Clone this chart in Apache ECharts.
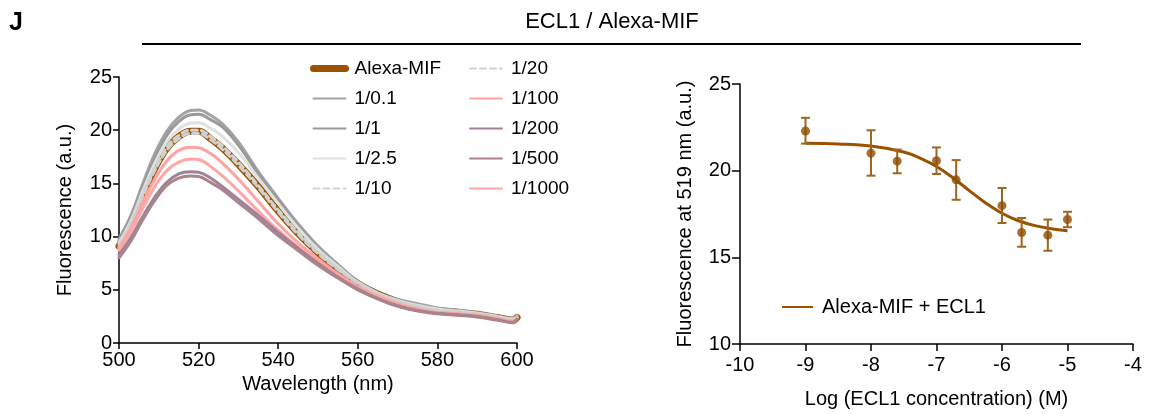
<!DOCTYPE html>
<html>
<head>
<meta charset="utf-8">
<script src="https://cdn.jsdelivr.net/npm/echarts@6/dist/echarts.min.js"></script>
<style>
  html, body { margin: 0; padding: 0; background: #fff; }
  #chart { width: 1153px; height: 414px; }
</style>
</head>
<body>
<div id="chart"></div>
<script>
// spectra (left panel)
const wavelength = [500, 503, 506, 509, 512, 515, 518, 520, 523, 526, 530, 535, 540, 545, 550, 555, 560, 565, 570, 575, 580, 585, 590, 595, 599, 600];
const alexaMIF = [9.1, 11.2, 13.9, 16.4, 18.3, 19.4, 19.9, 19.9, 19.2, 18.3, 16.8, 14.7, 12.4, 10.3, 8.5, 6.9, 5.6, 4.6, 3.9, 3.4, 3.05, 2.9, 2.7, 2.4, 2.15, 2.4];
const r0_1 = [9.8, 12.0, 15.0, 17.8, 19.9, 21.2, 21.85, 21.9, 21.4, 20.6, 18.9, 16.1, 13.6, 11.2, 9.1, 7.4, 5.8, 4.7, 4.1, 3.7, 3.3, 3.1, 2.85, 2.55, 2.3, 2.6];
const r1 = [9.6, 11.8, 14.7, 17.4, 19.5, 20.8, 21.45, 21.5, 21.0, 20.3, 18.6, 15.9, 13.4, 11.0, 8.95, 7.3, 5.8, 4.7, 4.05, 3.6, 3.25, 3.05, 2.8, 2.5, 2.25, 2.5];
const r2_5 = [9.4, 11.5, 14.3, 16.9, 18.9, 20.1, 20.65, 20.7, 20.2, 19.4, 17.9, 15.5, 13.1, 10.8, 8.8, 7.2, 5.7, 4.7, 4.0, 3.55, 3.2, 3.0, 2.8, 2.5, 2.25, 2.45];
const r10 = [9.2, 11.3, 14.0, 16.5, 18.4, 19.5, 20.0, 20.0, 19.4, 18.5, 17.0, 14.8, 12.5, 10.4, 8.6, 7.0, 5.7, 4.7, 3.95, 3.45, 3.1, 2.95, 2.75, 2.45, 2.2, 2.4];
const r20 = [9.0, 11.1, 13.8, 16.2, 18.1, 19.2, 19.7, 19.7, 19.1, 18.2, 16.7, 14.6, 12.3, 10.2, 8.4, 6.9, 5.6, 4.6, 3.9, 3.4, 3.05, 2.9, 2.7, 2.4, 2.15, 2.35];
const r100 = [8.9, 10.8, 13.2, 15.4, 17.1, 18.1, 18.4, 18.35, 17.8, 16.9, 15.4, 13.3, 11.2, 9.4, 7.9, 6.5, 5.3, 4.4, 3.7, 3.2, 2.9, 2.75, 2.6, 2.3, 2.05, 2.4];
const r200 = [8.3, 9.9, 11.9, 13.7, 15.1, 15.9, 16.1, 16.05, 15.5, 14.7, 13.5, 12.0, 10.4, 8.9, 7.5, 6.2, 5.1, 4.2, 3.5, 3.05, 2.8, 2.65, 2.5, 2.2, 1.95, 2.2];
const r500 = [8.0, 9.6, 11.6, 13.4, 14.8, 15.5, 15.7, 15.65, 15.1, 14.4, 13.2, 11.7, 10.1, 8.7, 7.3, 6.1, 5.0, 4.15, 3.45, 3.0, 2.75, 2.6, 2.45, 2.15, 1.9, 2.2];
const r1000 = [8.7, 10.5, 12.7, 14.7, 16.2, 17.0, 17.3, 17.25, 16.6, 15.7, 14.3, 12.4, 10.6, 9.0, 7.6, 6.3, 5.2, 4.3, 3.6, 3.15, 2.85, 2.7, 2.55, 2.25, 2.0, 2.35];

// titration (right panel)
const logConc = [-9, -8, -7.6, -7, -6.7, -6, -5.7, -5.3, -5];
const fl519 = [22.29, 21.01, 20.55, 20.57, 19.47, 17.98, 16.43, 16.28, 17.18];
const errLow = [21.56, 19.71, 19.85, 19.81, 18.32, 16.98, 15.61, 15.38, 16.74];
const errHigh = [23.05, 22.33, 21.22, 21.34, 20.61, 19.0, 17.27, 17.18, 17.63];
const fitX = [-9, -8.5, -8, -7.5, -7.25, -7, -6.75, -6.5, -6.25, -6, -5.75, -5.5, -5.25, -5];
const fitY = [21.58, 21.54, 21.42, 21.08, 20.73, 20.24, 19.59, 18.85, 18.14, 17.54, 17.11, 16.83, 16.65, 16.54];

const font = "'Liberation Sans', Arial, sans-serif";
const brown = "#9a5200";

const pair = (xs, ys) => xs.map((x, i) => [x, ys[i]]);

const spectrum = (name, ys, color, width, dashed) => ({
  name: name,
  type: "line",
  xAxisIndex: 0,
  yAxisIndex: 0,
  data: pair(wavelength, ys),
  smooth: 0.4,
  symbol: "none",
  lineStyle: { color: color, width: width, type: dashed ? [6, 4] : "solid", cap: "round" },
  itemStyle: { color: color },
});

const axisCommon = {
  axisLine: { lineStyle: { color: "#000", width: 1.5 } },
  axisTick: { lineStyle: { color: "#000", width: 1.5 }, length: 6 },
  axisLabel: { color: "#000", fontSize: 20, fontFamily: font },
  splitLine: { show: false },
  nameTextStyle: { color: "#000", fontSize: 20, fontFamily: font },
};

// 图例只画线，不画中间的圆点
const legendCommon = {
  orient: "vertical",
  itemWidth: 32,
  itemHeight: 14,
  itemGap: 11,
  itemStyle: { opacity: 0 },
  textStyle: { color: "#000", fontSize: 19, fontFamily: font, padding: [0, 0, 0, 4] },
};

const chart = echarts.init(document.getElementById("chart"));

const option = {
  animation: false,
  backgroundColor: "#fff",
  graphic: [
    { type: "text", left: 9, top: 11, style: { text: "J", fontSize: 25, fontWeight: "bold", fontFamily: font, fill: "#000" } },
    { type: "text", x: 612, y: 22, style: { text: "ECL1 / Alexa-MIF", fontSize: 22, fontFamily: font, fill: "#000", align: "center", verticalAlign: "middle" } },
    { type: "line", shape: { x1: 142, y1: 44, x2: 1081, y2: 44 }, style: { stroke: "#000", lineWidth: 2 } },
  ],
  grid: [
    { left: 119, right: 636, top: 77, bottom: 71 },
    { left: 740, right: 20, top: 84, bottom: 68 },
  ],
  xAxis: [
    Object.assign({}, axisCommon, {
      gridIndex: 0, type: "value", min: 500, max: 600, interval: 20,
      name: "Wavelength (nm)", nameLocation: "middle", nameGap: 30,
      axisLabel: Object.assign({}, axisCommon.axisLabel, { margin: 7 }),
    }),
    Object.assign({}, axisCommon, {
      gridIndex: 1, type: "value", min: -10, max: -4, interval: 1,
      name: "Log (ECL1 concentration) (M)", nameLocation: "middle", nameGap: 45,
      axisTick: { lineStyle: { color: "#000", width: 1.5 }, length: 7 },
      axisLabel: Object.assign({}, axisCommon.axisLabel, { margin: 11 }),
    }),
  ],
  yAxis: [
    Object.assign({}, axisCommon, {
      gridIndex: 0, type: "value", min: 0, max: 25, interval: 5,
      name: "Fluorescence (a.u.)", nameLocation: "middle", nameGap: 44,
      axisLabel: Object.assign({}, axisCommon.axisLabel, { margin: 7 }),
    }),
    Object.assign({}, axisCommon, {
      gridIndex: 1, type: "value", min: 10, max: 25, interval: 5,
      name: "Fluorescence at 519 nm (a.u.)", nameLocation: "middle", nameGap: 45,
      axisTick: { lineStyle: { color: "#000", width: 1.5 }, length: 8 },
      axisLabel: Object.assign({}, axisCommon.axisLabel, { margin: 9 }),
    }),
  ],
  legend: [
    Object.assign({}, legendCommon, {
      left: 305, top: 54,
      data: [
        { name: "Alexa-MIF", lineStyle: { width: 7, cap: "round" } },
        "1/0.1", "1/1", "1/2.5", "1/10",
      ],
    }),
    Object.assign({}, legendCommon, {
      left: 464, top: 54,
      data: ["1/20", "1/100", "1/200", "1/500", "1/1000"],
    }),
    Object.assign({}, legendCommon, {
      left: 776, top: 292,
      itemWidth: 31,
      textStyle: Object.assign({}, legendCommon.textStyle, { fontSize: 20, padding: [0, 0, 0, 4] }),
      data: ["Alexa-MIF + ECL1"],
    }),
  ],
  series: [
    spectrum("Alexa-MIF", alexaMIF, brown, 7, false),
    spectrum("1/0.1", r0_1, "#a3a3a3", 3, false),
    spectrum("1/1", r1, "#9a9a9a", 3, false),
    spectrum("1/2.5", r2_5, "#dce2e0", 3, false),
    spectrum("1/10", r10, "#d2d2d2", 3, true),
    spectrum("1/20", r20, "#cfcfcf", 3, true),
    spectrum("1/100", r100, "#ffa2a2", 3, false),
    spectrum("1/1000", r1000, "#ffa6a6", 3, false),
    spectrum("1/200", r200, "#a0829a", 3, false),
    spectrum("1/500", r500, "#aa8488", 3, false),
    {
      name: "Alexa-MIF + ECL1",
      type: "line",
      xAxisIndex: 1,
      yAxisIndex: 1,
      data: pair(fitX, fitY),
      smooth: 0.4,
      symbol: "none",
      lineStyle: { color: brown, width: 3 },
      itemStyle: { color: brown },
      z: 3,
    },
    {
      name: "error",
      type: "custom",
      xAxisIndex: 1,
      yAxisIndex: 1,
      data: logConc.map((x, i) => [x, errLow[i], errHigh[i]]),
      renderItem: function (params, api) {
        const lo = api.coord([api.value(0), api.value(1)]);
        const hi = api.coord([api.value(0), api.value(2)]);
        const w = 4.5;
        const st = { stroke: "#a0651f", lineWidth: 2 };
        return {
          type: "group",
          children: [
            { type: "line", shape: { x1: lo[0], y1: lo[1], x2: hi[0], y2: hi[1] }, style: st },
            { type: "line", shape: { x1: lo[0] - w, y1: lo[1], x2: lo[0] + w, y2: lo[1] }, style: st },
            { type: "line", shape: { x1: hi[0] - w, y1: hi[1], x2: hi[0] + w, y2: hi[1] }, style: st },
          ],
        };
      },
      z: 4,
    },
    {
      name: "points",
      type: "scatter",
      xAxisIndex: 1,
      yAxisIndex: 1,
      data: pair(logConc, fl519),
      symbol: "circle",
      symbolSize: 9,
      itemStyle: { color: "#8e4c00" },
      z: 5,
    },
  ],
};

chart.setOption(option);
</script>
</body>
</html>
